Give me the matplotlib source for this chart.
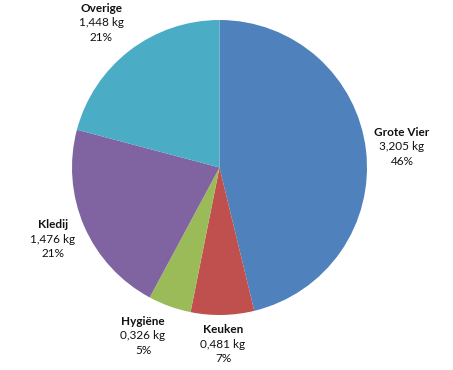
import matplotlib.pyplot as plt

categories = ['Grote Vier', 'Keuken', 'Hygiëne', 'Kledij', 'Overige']
values = [3.205, 0.481, 0.326, 1.476, 1.448]
value_labels = ['3,205 kg', '0,481 kg', '0,326 kg', '1,476 kg', '1,448 kg']
pct_labels = ['46%', '7%', '5%', '21%', '21%']
colors = ['#4F81BD', '#C0504D', '#9BBB59', '#8064A2', '#4BACC6']

# plek van de labels (in straal-eenheden, midden van de middelste regel)
label_xy = [(1.237, 0.139), (0.024, -1.197), (-0.519, -1.142),
            (-1.129, -0.485), (-0.803, 0.980)]

plt.rcParams['font.family'] = ['Lato', 'DejaVu Sans']

fig = plt.figure(figsize=(4.53, 3.70), dpi=100)
W, H = 453, 370
cx, cy, r = 219.5, 202.5, 147.5
ax = fig.add_axes([(cx - r) / W, (cy - r) / H, 2 * r / W, 2 * r / H])

wedges, _ = ax.pie(values, colors=colors, startangle=90, counterclock=False,
                   radius=1, wedgeprops=dict(linewidth=0))
ax.set_xlim(-1, 1)
ax.set_ylim(-1, 1)
ax.set_aspect('equal')
ax.axis('off')

for name, val, pct, (x, y) in zip(categories, value_labels, pct_labels, label_xy):
    ax.annotate(name, (x, y), xytext=(0, 14.5), textcoords='offset pixels',
                ha='center', va='center', fontsize=8.5, fontweight='bold',
                color='#111111', annotation_clip=False)
    ax.annotate(val, (x, y), ha='center', va='center', fontsize=8.5,
                color='#111111', annotation_clip=False)
    ax.annotate(pct, (x, y), xytext=(0, -14.5), textcoords='offset pixels',
                ha='center', va='center', fontsize=8.5,
                color='#111111', annotation_clip=False)

fig.savefig('out.png', dpi=100)
